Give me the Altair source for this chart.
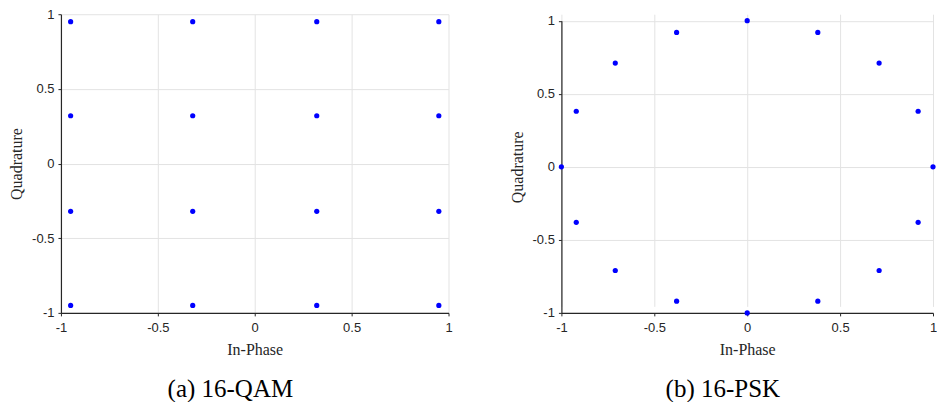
import altair as alt
import pandas as pd

# 16-QAM constellation
qam_i = [-0.95, -0.95, -0.95, -0.95, -0.32, -0.32, -0.32, -0.32,
         0.32, 0.32, 0.32, 0.32, 0.95, 0.95, 0.95, 0.95]
qam_q = [-0.95, -0.32, 0.32, 0.95, -0.95, -0.32, 0.32, 0.95,
         -0.95, -0.32, 0.32, 0.95, -0.95, -0.32, 0.32, 0.95]

# 16-PSK constellation
psk_i = [1.0, 0.92, 0.71, 0.38, 0.0, -0.38, -0.71, -0.92,
         -1.0, -0.92, -0.71, -0.38, 0.0, 0.38, 0.71, 0.92]
psk_q = [0.0, 0.38, 0.71, 0.92, 1.0, 0.92, 0.71, 0.38,
         0.0, -0.38, -0.71, -0.92, -1.0, -0.92, -0.71, -0.38]

tick_vals = [-1, -0.5, 0, 0.5, 1]
x_title = "In-Phase"
y_title = "Quadrature"
captions = ["(a) 16-QAM", "(b) 16-PSK"]

AX_COL = "#262626"
GRID_COL = "#e3e3e3"
SERIF = "Liberation Serif"
SANS = "Liberation Sans"


def axis(title, label_pad, title_pad):
    return alt.Axis(
        values=tick_vals, labelExpr="'' + datum.value", title=title,
        grid=True, gridColor=GRID_COL, gridWidth=1,
        domainColor=AX_COL, domainWidth=1.2, tickColor=AX_COL, tickSize=3,
        labelFont=SANS, labelFontSize=13, labelColor=AX_COL, labelPadding=label_pad,
        titleFont=SERIF, titleFontSize=16, titleFontWeight="normal",
        titleColor=AX_COL, titlePadding=title_pad, labelFlush=False,
    )


def panel(xs, ys, caption, w, h, ytop):
    df = pd.DataFrame({"I": xs, "Q": ys})
    return alt.Chart(df).mark_circle(size=27, color="#0000ff", opacity=1, clip=False).encode(
        x=alt.X("I:Q", scale=alt.Scale(domain=[-1, 1], nice=False, zero=False),
                axis=axis(x_title, 6, 7)),
        y=alt.Y("Q:Q", scale=alt.Scale(domain=[-1, 1], nice=False, zero=False, range=[h, ytop]),
                axis=axis(y_title, 4, 7)),
    ).properties(
        width=w, height=h,
        title=alt.TitleParams(caption, orient="bottom", anchor="middle", frame="bounds",
                              font=SERIF, fontSize=25, fontWeight="normal",
                              color="black", offset=19),
    )


left = panel(qam_i, qam_q, captions[0], 388, 299, 0)
right = panel(psk_i, psk_q, captions[1], 372, 299, 6.5)

chart = alt.hconcat(left, right, spacing=56).properties(padding=0).configure_view(stroke=None)

chart.save("out.html", embed_options={"renderer": "svg", "actions": False})
